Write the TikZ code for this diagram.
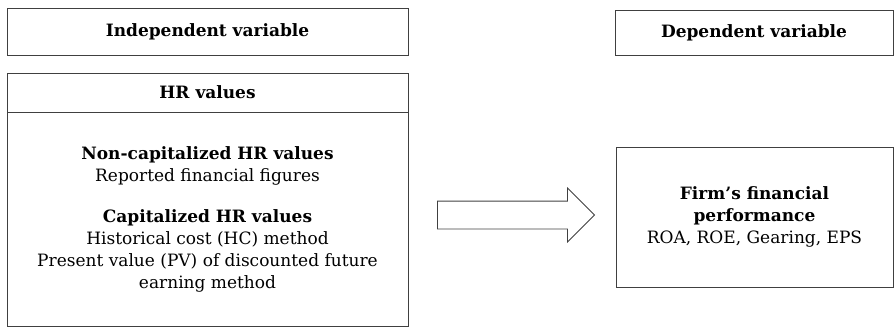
\documentclass[tikz,border=0pt]{standalone}
\usepackage{fontspec}
\setmainfont{DejaVu Serif}
\usetikzlibrary{positioning, shapes.arrows}

\begin{document}
\begin{tikzpicture}[
    x=1pt, y=1pt,
    box/.style={draw=black!75, line width=0.8pt, outer sep=0pt, inner sep=0pt, align=center, font=\fontsize{17}{22}\selectfont},
    bigarrow/.style={single arrow, draw=black!75, line width=0.8pt, single arrow head extend=13pt, minimum height=157pt, inner xsep=0pt, inner ysep=13.5pt, outer sep=0pt},
]
    \useasboundingbox (0,0) rectangle (894,327);

    \node[box, minimum width=401pt, minimum height=47pt] (indep) at (207.5,295.5) {\textbf{Independent variable}};
    \node[box, minimum width=401pt, minimum height=39pt] (hrhead) at (207.5,234.5) {\textbf{HR values}};
    \node[box, minimum width=401pt, minimum height=214pt, below=0pt of hrhead] (hrbody) {
        \textbf{Non-capitalized HR values}\\
        Reported financial figures\\[19pt]
        \textbf{Capitalized HR values}\\
        Historical cost (HC) method\\
        Present value (PV) of discounted future\\
        earning method
    };

    \node[box, minimum width=278pt, minimum height=45pt] (dep) at (754,294.5) {\textbf{Dependent variable}};
    \node[box, minimum width=277pt, minimum height=140pt] (firm) at (754.5,110) {
        \textbf{Firm's financial}\\
        \textbf{performance}\\
        ROA, ROE, Gearing, EPS
    };

    \node[bigarrow] (arr) at (509,112) {};
\end{tikzpicture}
\end{document}
